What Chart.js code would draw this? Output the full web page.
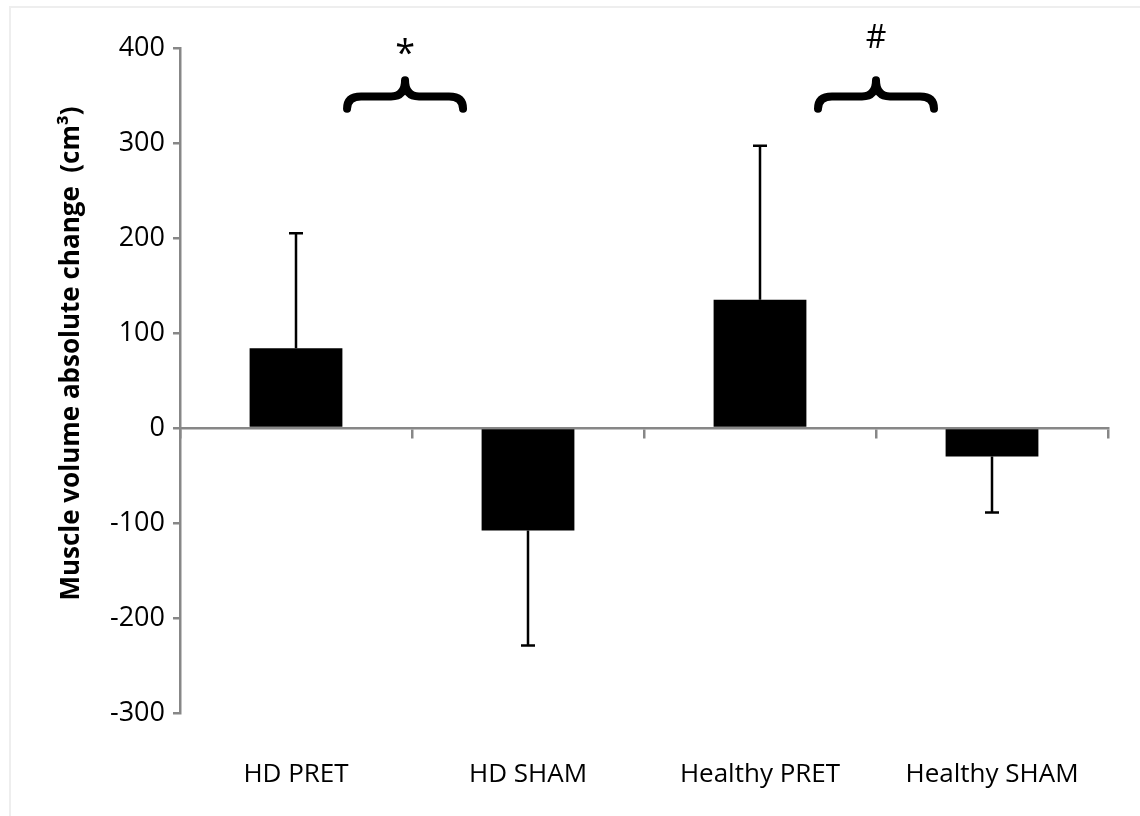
<!DOCTYPE html>
<html>
<head>
<meta charset="utf-8">
<script src="https://cdn.jsdelivr.net/npm/chart.js@4"></script>
<style>
  html, body { margin: 0; padding: 0; background: #fff; }
  #wrap { position: relative; width: 1140px; height: 816px; }
  #frame { position: absolute; left: 9px; top: 6px; right: 0; bottom: 0;
           border-top: 2px solid #eee; border-left: 2px solid #eee; pointer-events: none; }
</style>
</head>
<body>
<div id="wrap">
  <canvas id="chart" width="1140" height="816"></canvas>
  <div id="frame"></div>
</div>
<script>
const categories = ['HD PRET', 'HD SHAM', 'Healthy PRET', 'Healthy SHAM'];
const means = [84, -108, 135, -30];
// end of the one-sided error bar (mean +/- SD)
const errorEnds = [205, -229, 297, -89];
const yTicks = [-300, -200, -100, 0, 100, 200, 300, 400];

// significance braces: start/end in category units, symbol
const braceFrom = [0.22, 2.25];
const braceTo = [0.72, 2.75];
const braceSymbols = ['*', '#'];

const FONT = "'Open Sans', 'DejaVu Sans', sans-serif";
const AXIS_GREY = '#878787';

const errorBars = {
  id: 'errorBars',
  afterDatasetsDraw(chart) {
    const ctx = chart.ctx;
    const ys = chart.scales.y;
    const meta = chart.getDatasetMeta(0);
    ctx.save();
    ctx.strokeStyle = '#000';
    ctx.lineWidth = 2.5;
    meta.data.forEach((bar, i) => {
      const yEnd = ys.getPixelForValue(errorEnds[i]);
      const yStart = ys.getPixelForValue(means[i]);
      ctx.beginPath();
      ctx.moveTo(bar.x, yStart);
      ctx.lineTo(bar.x, yEnd);
      ctx.moveTo(bar.x - 7, yEnd);
      ctx.lineTo(bar.x + 7, yEnd);
      ctx.stroke();
    });
    ctx.restore();
  }
};

const braces = {
  id: 'braces',
  afterDraw(chart) {
    const ctx = chart.ctx;
    const xs = chart.scales.x;
    const ys = chart.scales.y;
    const step = xs.getPixelForValue(1) - xs.getPixelForValue(0);
    const x0 = xs.getPixelForValue(0);
    const yHook = ys.getPixelForValue(336);
    const yBody = ys.getPixelForValue(349);
    const yTip = ys.getPixelForValue(366);
    ctx.save();
    ctx.strokeStyle = '#000';
    ctx.lineWidth = 8;
    ctx.lineCap = 'round';
    ctx.lineJoin = 'round';
    braceFrom.forEach((f, i) => {
      const x1 = x0 + f * step;
      const x2 = x0 + braceTo[i] * step;
      const xc = (x1 + x2) / 2;
      const h = 14;
      ctx.beginPath();
      ctx.moveTo(x1, yHook);
      ctx.quadraticCurveTo(x1, yBody, x1 + h, yBody);
      ctx.lineTo(xc - h, yBody);
      ctx.quadraticCurveTo(xc, yBody, xc, yTip);
      ctx.quadraticCurveTo(xc, yBody, xc + h, yBody);
      ctx.lineTo(x2 - h, yBody);
      ctx.quadraticCurveTo(x2, yBody, x2, yHook);
      ctx.stroke();

      ctx.fillStyle = '#000';
      ctx.textAlign = 'center';
      ctx.textBaseline = 'middle';
      const isStar = braceSymbols[i] === '*';
      ctx.font = (isStar ? '36px ' : '32px ') + FONT;
      const symY = isStar ? ys.getPixelForValue(400) + 7 : ys.getPixelForValue(410);
      ctx.fillText(braceSymbols[i], xc, symY);
    });
    ctx.restore();
  }
};

new Chart(document.getElementById('chart').getContext('2d'), {
  type: 'bar',
  data: {
    labels: categories,
    datasets: [{
      data: means,
      backgroundColor: '#000',
      borderColor: '#000',
      borderWidth: 0,
      categoryPercentage: 1,
      barPercentage: 0.4,
    }],
  },
  options: {
    responsive: false,
    animation: false,
    layout: { padding: { top: 48, right: 32, left: 0, bottom: 0 } },
    plugins: { legend: { display: false }, tooltip: { enabled: false } },
    scales: {
      x: {
        type: 'category',
        position: 'bottom',
        grid: { display: false, drawTicks: false },
        border: { display: false },
        ticks: { color: '#000', font: { family: FONT, size: 26 }, padding: 46 },
        afterFit(scale) { scale.height = 103; },
      },
      xZero: {
        type: 'category',
        labels: categories,
        position: { y: 0 },
        offset: true,
        grid: { offset: true, drawOnChartArea: false, drawTicks: true, tickLength: 9, color: AXIS_GREY, lineWidth: 2.5 },
        border: { display: true, color: AXIS_GREY, width: 2.5 },
        ticks: { display: false },
      },
      y: {
        min: -300,
        max: 400,
        afterBuildTicks(scale) { scale.ticks = yTicks.map((v) => ({ value: v })); },
        grid: { drawOnChartArea: false, drawTicks: true, tickLength: 7, color: AXIS_GREY, lineWidth: 2.5 },
        border: { display: true, color: AXIS_GREY, width: 2.5 },
        ticks: { color: '#000', font: { family: FONT, size: 27 }, padding: 8 },
        title: {
          display: true,
          text: '\u00a0\u00a0\u00a0\u00a0\u00a0\u00a0\u00a0\u00a0Muscle volume absolute change  (cm\u00b3)',
          color: '#000',
          font: { family: FONT, size: 26, weight: 'bold' },
          padding: { top: 56, bottom: 0 },
        },
        afterFit(scale) { scale.width = 180; },
      },
    },
  },
  plugins: [errorBars, braces],
});
</script>
</body>
</html>
